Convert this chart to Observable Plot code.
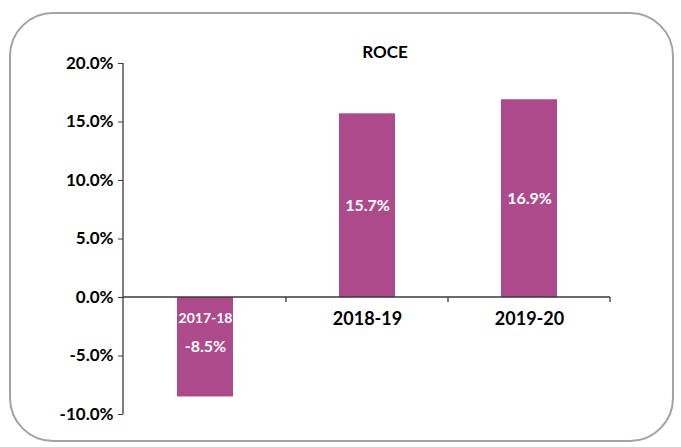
<!DOCTYPE html>
<html>
<head>
<meta charset="utf-8">
<script src="https://cdn.jsdelivr.net/npm/d3@7"></script>
<script src="https://cdn.jsdelivr.net/npm/@observablehq/plot@0.6"></script>
<style>
  html, body { margin: 0; padding: 0; background: #fff; }
  #wrap { position: relative; width: 681px; height: 447px; overflow: hidden; font-family: Lato, "Open Sans", sans-serif; }
  #border { position: absolute; left: 9px; top: 12px; width: 665px; height: 430px; box-sizing: border-box;
            border: 2px solid #a3a3a3; border-radius: 44px; pointer-events: none; }
  #title { position: absolute; left: 335px; width: 100px; top: 42px; line-height: 20px; text-align: center;
           font-size: 17px; font-weight: bold; color: #000; }
  #chart { position: absolute; left: 0; top: 0; }
</style>
</head>
<body>
<div id="wrap">
  <div id="chart"></div>
  <div id="border"></div>
  <div id="title">ROCE</div>
</div>
<script>
const categories = ["2017-18", "2018-19", "2019-20"];
const roceValues = [-8.5, 15.7, 16.9];
const yTicks = [-10, -5, 0, 5, 10, 15, 20];
const yDomain = [-10, 20];

const data = categories.map((c, i) => ({cat: c, value: roceValues[i]}));
const fmt = v => v.toFixed(1) + "%";

function axisLines(index, scales, values, dims) {
  const x = scales.x, y = scales.y;
  const g = d3.create("svg:g").attr("stroke", "#3a3a3a").attr("stroke-width", 1.3).attr("fill", "none");
  const left = dims.marginLeft, right = dims.width - dims.marginRight;
  g.append("line").attr("x1", left).attr("x2", left).attr("y1", y(yDomain[0])).attr("y2", y(yDomain[1]));
  g.append("line").attr("x1", left).attr("x2", right).attr("y1", y(0)).attr("y2", y(0));
  const bw = typeof x.bandwidth === "function" ? x.bandwidth() : x.bandwidth;
  const step = x(categories[1]) - x(categories[0]);
  categories.forEach(c => {
    const bx = x(c) + bw + (step - bw) / 2;
    g.append("line").attr("x1", bx).attr("x2", bx).attr("y1", y(0)).attr("y2", y(0) + 5);
  });
  return g.node();
}

const chart = Plot.plot({
  width: 681,
  height: 447,
  marginLeft: 123,
  marginRight: 71,
  marginTop: 63,
  marginBottom: 33,
  style: {fontFamily: "Lato, 'Open Sans', sans-serif", fontWeight: "bold", background: "transparent", color: "#000"},
  x: {domain: categories, paddingInner: 0.655, paddingOuter: 0.3275, axis: null},
  y: {domain: yDomain, axis: null, label: null},
  marks: [
    Plot.barY(data, {x: "cat", y: "value", fill: "#ad4a8c"}),
    Plot.axisY({ticks: yTicks, tickFormat: fmt, label: null, tickSize: 5, tickPadding: 5, stroke: "#3a3a3a", fill: "#000", fontSize: 17, fontWeight: "bold"}),
    axisLines,
    Plot.text(data, {x: "cat", y: d => d.value / 2, text: d => fmt(d.value), fill: "white", fontSize: 16, fontWeight: "bold"}),
    Plot.text(data.filter(d => d.value < 0), {x: "cat", y: () => 0, dy: 21, text: "cat", fill: "white", fontSize: 14, fontWeight: "bold"}),
    Plot.text(data.filter(d => d.value >= 0), {x: "cat", y: () => 0, dy: 22, text: "cat", fill: "black", fontSize: 18, fontWeight: "bold"})
  ]
});
document.getElementById("chart").appendChild(chart);
</script>
</body>
</html>
